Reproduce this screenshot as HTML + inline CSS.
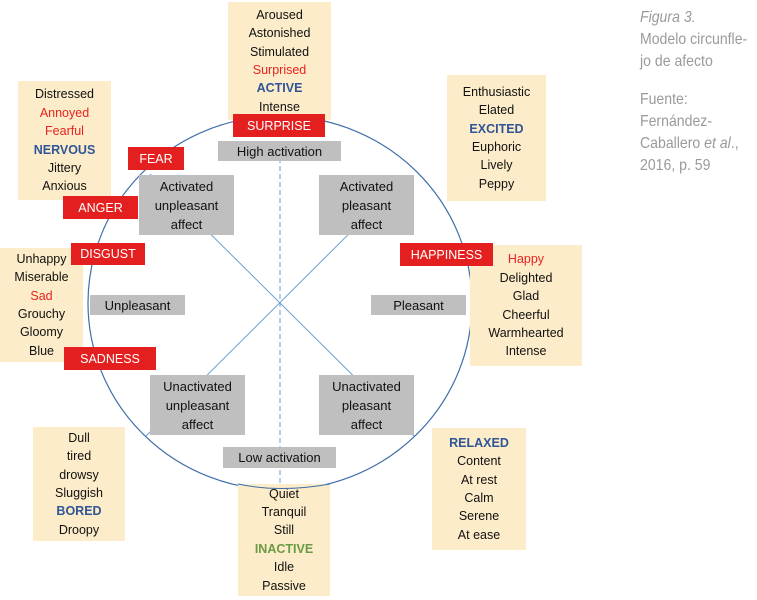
<!DOCTYPE html>
<html><head><meta charset="utf-8"><style>
body{margin:0;width:757px;height:600px;background:#fff;position:relative;overflow:hidden;font-family:"Liberation Sans",sans-serif}
.b{position:absolute;display:flex;flex-direction:column;justify-content:center;align-items:center;text-align:center;font-size:12.5px;line-height:18.4px;color:#111;box-sizing:border-box}
.y{background:#fcecc9}
.g{background:#bfbfbf;font-size:13px;line-height:19px}
.r{background:#e3201f;color:#fff;font-size:12.5px;line-height:14px}
.rd{color:#e8231f}.bl{color:#2f5597;font-weight:bold}.gr{color:#6a9a44;font-weight:bold}
.cap{position:absolute;left:640px;color:#9a9a9a;font-size:16px;line-height:22px;white-space:nowrap;transform:scaleX(0.88);transform-origin:left}
svg{position:absolute;left:0;top:0}
</style></head><body>
<svg width="757" height="600">
<ellipse cx="280" cy="303" rx="192" ry="187" fill="none" stroke="#3e6ea8" stroke-width="1.2"/>
<line x1="280" y1="150" x2="280" y2="490" stroke="#6a9fd4" stroke-width="1" stroke-dasharray="5,3"/>
<line x1="146" y1="436" x2="405" y2="178" stroke="#6a9fd4" stroke-width="1"/>
<line x1="150" y1="174" x2="414" y2="436" stroke="#6a9fd4" stroke-width="1"/>
</svg>
<div class="b y" style="left:228px;top:2px;width:103px;height:118px"><div>Aroused</div><div>Astonished</div><div>Stimulated</div><div class="rd">Surprised</div><div class="bl">ACTIVE</div><div>Intense</div></div>
<div class="b r" style="left:233px;top:114px;width:92px;height:23px">SURPRISE</div>
<div class="b g" style="left:218px;top:141px;width:123px;height:20px">High activation</div>
<div class="b y" style="left:18px;top:81px;width:93px;height:119px"><div>Distressed</div><div class="rd">Annoyed</div><div class="rd">Fearful</div><div class="bl">NERVOUS</div><div>Jittery</div><div>Anxious</div></div>
<div class="b r" style="left:128px;top:147px;width:56px;height:23px">FEAR</div>
<div class="b r" style="left:63px;top:196px;width:75px;height:23px">ANGER</div>
<div class="b g" style="left:139px;top:175px;width:95px;height:60px">Activated<br>unpleasant<br>affect</div>
<div class="b g" style="left:319px;top:175px;width:95px;height:60px">Activated<br>pleasant<br>affect</div>
<div class="b y" style="left:447px;top:75px;width:99px;height:126px"><div>Enthusiastic</div><div>Elated</div><div class="bl">EXCITED</div><div>Euphoric</div><div>Lively</div><div>Peppy</div></div>
<div class="b y" style="left:0px;top:248px;width:83px;height:114px"><div>Unhappy</div><div>Miserable</div><div class="rd">Sad</div><div>Grouchy</div><div>Gloomy</div><div>Blue</div></div>
<div class="b r" style="left:71px;top:243px;width:74px;height:22px">DISGUST</div>
<div class="b g" style="left:90px;top:295px;width:95px;height:20px">Unpleasant</div>
<div class="b g" style="left:371px;top:295px;width:95px;height:20px">Pleasant</div>
<div class="b y" style="left:470px;top:245px;width:112px;height:121px"><div class="rd">Happy</div><div>Delighted</div><div>Glad</div><div>Cheerful</div><div>Warmhearted</div><div>Intense</div></div>
<div class="b r" style="left:400px;top:243px;width:93px;height:23px">HAPPINESS</div>
<div class="b r" style="left:64px;top:347px;width:92px;height:23px">SADNESS</div>
<div class="b g" style="left:150px;top:375px;width:95px;height:60px">Unactivated<br>unpleasant<br>affect</div>
<div class="b g" style="left:319px;top:375px;width:95px;height:60px">Unactivated<br>pleasant<br>affect</div>
<div class="b g" style="left:223px;top:447px;width:113px;height:21px">Low activation</div>
<div class="b y" style="left:33px;top:427px;width:92px;height:114px"><div>Dull</div><div>tired</div><div>drowsy</div><div>Sluggish</div><div class="bl">BORED</div><div>Droopy</div></div>
<div class="b y" style="left:432px;top:428px;width:94px;height:122px"><div class="bl">RELAXED</div><div>Content</div><div>At rest</div><div>Calm</div><div>Serene</div><div>At ease</div></div>
<div class="b y" style="left:238px;top:484px;width:92px;height:112px;justify-content:flex-end;padding-bottom:1px"><div>Quiet</div><div>Tranquil</div><div>Still</div><div class="gr">INACTIVE</div><div>Idle</div><div>Passive</div></div>
<svg width="757" height="600"><path d="M238 484 Q280 493 330 484" fill="none" stroke="#3e6ea8" stroke-width="1"/></svg>
<div class="cap" style="top:7px"><i>Figura 3.</i><br>Modelo circunfle-<br>jo de afecto</div>
<div class="cap" style="top:89px">Fuente:<br>Fernández-<br>Caballero <i>et al</i>.,<br>2016, p. 59</div>
</body></html>
